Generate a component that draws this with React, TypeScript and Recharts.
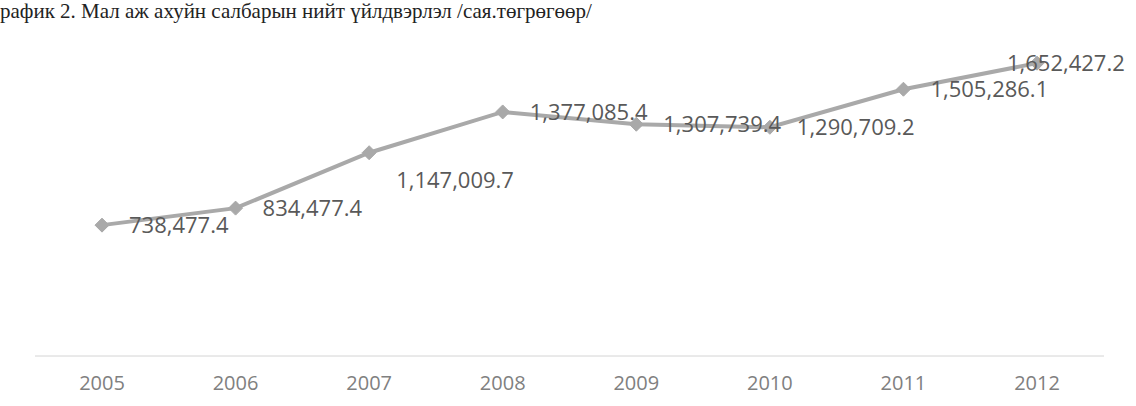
import React from "react";
import { LabelList, Line, LineChart, XAxis, YAxis } from "recharts";

const years = ["2005", "2006", "2007", "2008", "2009", "2010", "2011", "2012"];
const output = [738477.4, 834477.4, 1147009.7, 1377085.4, 1307739.4, 1290709.2, 1505286.1, 1652427.2];
const title = "рафик 2. Мал аж ахуйн салбарын нийт үйлдвэрлэл /сая.төгрөгөөр/";

const data = years.map((year, i) => ({ year, value: output[i] }));

const fmt = (v: number) =>
  v.toLocaleString("en-US", { minimumFractionDigits: 1, maximumFractionDigits: 1 });

function Diamond(props: any) {
  const { cx, cy } = props;
  if (cx == null || cy == null) return null;
  const r = 7;
  return (
    <path
      d={`M${cx},${cy - r}L${cx + r},${cy}L${cx},${cy + r}L${cx - r},${cy}Z`}
      fill="#a9a9a9"
      stroke="#a9a9a9"
    />
  );
}

function ValueLabel(props: any) {
  const { x, y, value, index } = props;
  let dx = 27;
  let dy = 0;
  if (index === 2) dy = 27;
  if (index === data.length - 1) dx = -30;
  return (
    <text
      x={x + dx}
      y={y + dy}
      dy="0.36em"
      fill="#595959"
      fontSize={22}
      fontFamily="'Open Sans', sans-serif"
      textAnchor="start"
    >
      {fmt(value)}
    </text>
  );
}

export default function App() {
  return (
    <div
      style={{
        position: "absolute",
        left: 0,
        top: 0,
        width: 1136,
        height: 406,
        background: "#fff",
        overflow: "hidden",
      }}
    >
      <div
        style={{
          position: "absolute",
          left: 0,
          top: 0,
          fontFamily: "'Liberation Serif', serif",
          fontSize: 21,
          lineHeight: 1.1,
          color: "#222",
          whiteSpace: "nowrap",
        }}
      >
        {title}
      </div>
      <LineChart
        width={1136}
        height={406}
        data={data}
        margin={{ top: 37, right: 32, bottom: 20, left: 35 }}
      >
        <XAxis
          dataKey="year"
          axisLine={{ stroke: "#d4d4d4", strokeWidth: 1 }}
          tickLine={false}
          tickMargin={14}
          height={30}
          padding={{ left: 67, right: 67 }}
          tick={{ fill: "#808080", fontSize: 20, fontFamily: "'Open Sans', sans-serif" }}
        />
        <YAxis hide domain={[0, 1800000]} />
        <Line
          type="linear"
          dataKey="value"
          stroke="#a9a9a9"
          strokeWidth={4}
          dot={<Diamond />}
          activeDot={false}
          isAnimationActive={false}
        >
          <LabelList dataKey="value" content={<ValueLabel />} />
        </Line>
      </LineChart>
    </div>
  );
}
